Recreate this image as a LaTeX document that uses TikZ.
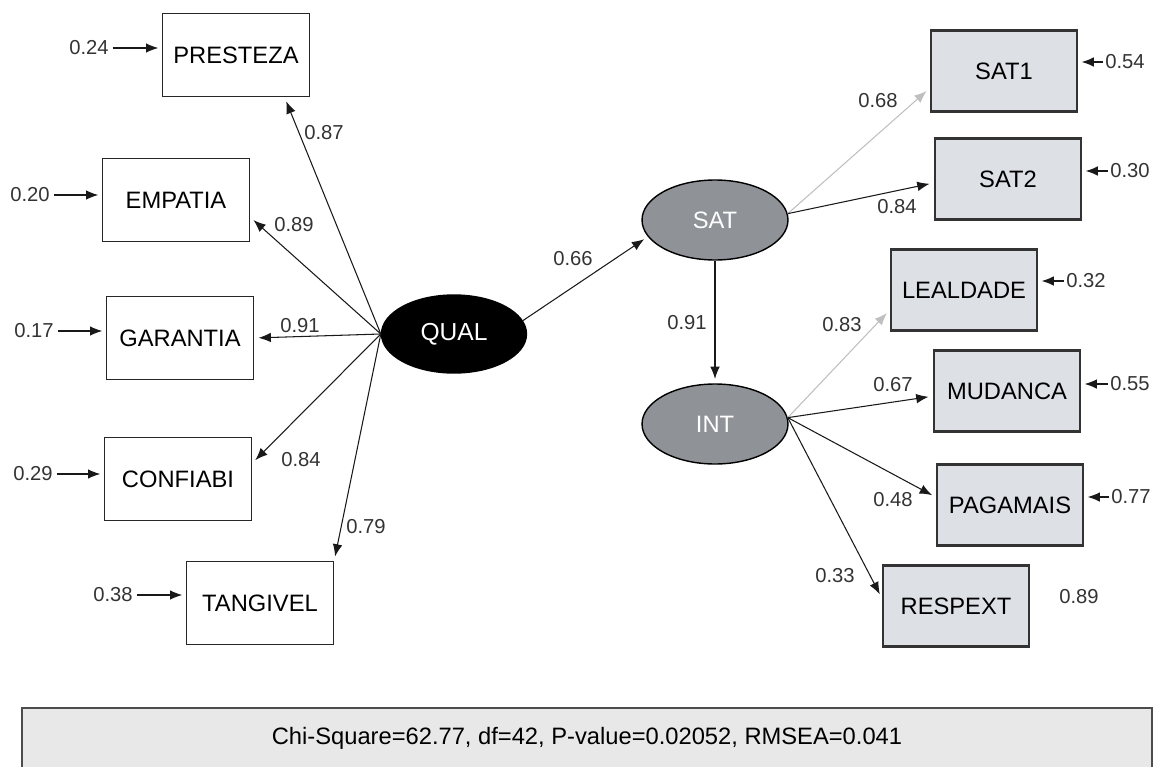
\documentclass[tikz,border=0pt]{standalone}
\usepackage{fontspec}
\setmainfont{Liberation Sans}
\usetikzlibrary{shapes.geometric,arrows.meta}
\definecolor{boxgray}{HTML}{DDE1E6}
\definecolor{latgray}{HTML}{8F9397}
\definecolor{statgray}{HTML}{E8E8E8}

\begin{document}
\begin{tikzpicture}
    [%%%%%%%%%%%%%%%%%%%%%%%%%%%%%%
        x=0.02cm, y=-0.02cm,
        indbox/.style={rectangle,draw=black!85,line width=0.8pt,minimum width=2.94cm,minimum height=1.66cm,inner sep=0pt,font=\fontsize{13.5}{16}\selectfont},
        outbox/.style={rectangle,draw=black!80,line width=1.3pt,fill=boxgray,minimum width=2.92cm,minimum height=1.62cm,inner sep=0pt,font=\fontsize{13.5}{16}\selectfont},
        latent/.style={ellipse,draw=black,line width=0.8pt,fill=latgray,text=white,minimum width=2.92cm,minimum height=1.6cm,inner sep=0pt,font=\fontsize{13.5}{16}\selectfont},
        coef/.style={inner sep=2pt,font=\fontsize{11.5}{14}\selectfont,text=black!80},
        arc/.style={draw=black!90,line width=0.6pt,shorten >=2.5pt,-{Latex[length=7pt,width=5.5pt]}},
        faint/.style={arc,draw=black!25},
        errarc/.style={arc,line width=0.7pt,shorten >=2pt},
        statbox/.style={rectangle,draw=black!70,line width=1pt,fill=statgray,minimum width=22.6cm,minimum height=1.2cm,inner sep=0pt,font=\fontsize{13.5}{16}\selectfont},
    ]%%%%%%%%%%%%%%%%%%%%%%%%%%%%%%
\useasboundingbox (0,0) rectangle (1159,767);
% indicadores de qualidade
\node[indbox] (presteza) at (236,55) {PRESTEZA};
\node[indbox] (empatia) at (176,200) {EMPATIA};
\node[indbox] (garantia) at (180,338) {GARANTIA};
\node[indbox] (confiabi) at (178,479) {CONFIABI};
\node[indbox] (tangivel) at (260,603) {TANGIVEL};
% latentes
\node[latent, fill=black, minimum width=2.9cm, minimum height=1.56cm, font=\fontsize{14}{16}\selectfont] (qual) at (454,334) {QUAL};
\node[latent] (sat) at (715,220) {SAT};
\node[latent] (int) at (715,424) {INT};
% indicadores de satisfacao e intencao
\node[outbox] (sat1) at (1004,71) {SAT1};
\node[outbox] (sat2) at (1008,179) {SAT2};
\node[outbox] (lealdade) at (964,290) {LEALDADE};
\node[outbox] (mudanca) at (1007,391) {MUDANCA};
\node[outbox] (pagamais) at (1010,505) {PAGAMAIS};
\node[outbox] (respext) at (956,606) {RESPEXT};
% erros
\node[coef] (epre) at (89,48) {0.24};
\node[coef] (eemp) at (30,195) {0.20};
\node[coef] (egar) at (34,331) {0.17};
\node[coef] (econ) at (33,474) {0.29};
\node[coef] (etan) at (113,595) {0.38};
\node[coef, inner sep=1pt] (esat1) at (1125,62) {0.54};
\node[coef, inner sep=1pt] (esat2) at (1130,171) {0.30};
\node[coef, inner sep=1pt] (elea) at (1086,281) {0.32};
\node[coef, inner sep=1pt] (emud) at (1130,384) {0.55};
\node[coef, inner sep=1pt] (epag) at (1131,497) {0.77};
\node[coef] (eres) at (1079,597) {0.89};
\draw[errarc] (epre) -- (epre -| presteza.west);
\draw[errarc] (eemp) -- (eemp -| empatia.west);
\draw[errarc] (egar) -- (egar -| garantia.west);
\draw[errarc] (econ) -- (econ -| confiabi.west);
\draw[errarc] (etan) -- (etan -| tangivel.west);
\draw[errarc] (esat1) -- (esat1 -| sat1.east);
\draw[errarc] (esat2) -- (esat2 -| sat2.east);
\draw[errarc] (elea) -- (elea -| lealdade.east);
\draw[errarc] (emud) -- (emud -| mudanca.east);
\draw[errarc] (epag) -- (epag -| pagamais.east);
% cargas
\draw[arc] (qual.west) -- (presteza.-41);
\draw[arc] (qual.west) -- (empatia.-13);
\draw[arc] (qual.west) -- (garantia.east);
\draw[arc] (qual.west) -- (confiabi.12);
\draw[arc] (qual.west) -- (tangivel.north east);
\draw[arc] (qual.11) -- (sat.194);
\draw[arc] (sat.south) -- (int.north);
\draw[faint] (sat.5) -- (sat1.193);
\draw[arc] (sat.5) -- (sat2.183);
\draw[faint] (int.5) -- (lealdade.195);
\draw[arc] (int.5) -- (mudanca.184);
\draw[arc] (int.5) -- (pagamais.174);
\draw[arc] (int.5) -- (respext.174);
\node[coef] (kpre) at (324,133) {0.87};
\node[coef] (kemp) at (294,225) {0.89};
\node[coef] (kgar) at (300,326) {0.91};
\node[coef] (kcon) at (301,460) {0.84};
\node[coef] (ktan) at (366,527) {0.79};
\node[coef] (ksat) at (573,259) {0.66};
\node[coef] (kint) at (687,323) {0.91};
\node[coef] (ksat1) at (878,101) {0.68};
\node[coef] (ksat2) at (897,207) {0.84};
\node[coef] (klea) at (842,325) {0.83};
\node[coef] (kmud) at (893,385) {0.67};
\node[coef] (kpag) at (893,500) {0.48};
\node[coef] (kres) at (835,576) {0.33};
% ajuste
\node[statbox] (stats) at (587,738) {Chi-Square=62.77, df=42, P-value=0.02052, RMSEA=0.041};
\end{tikzpicture}
\end{document}
